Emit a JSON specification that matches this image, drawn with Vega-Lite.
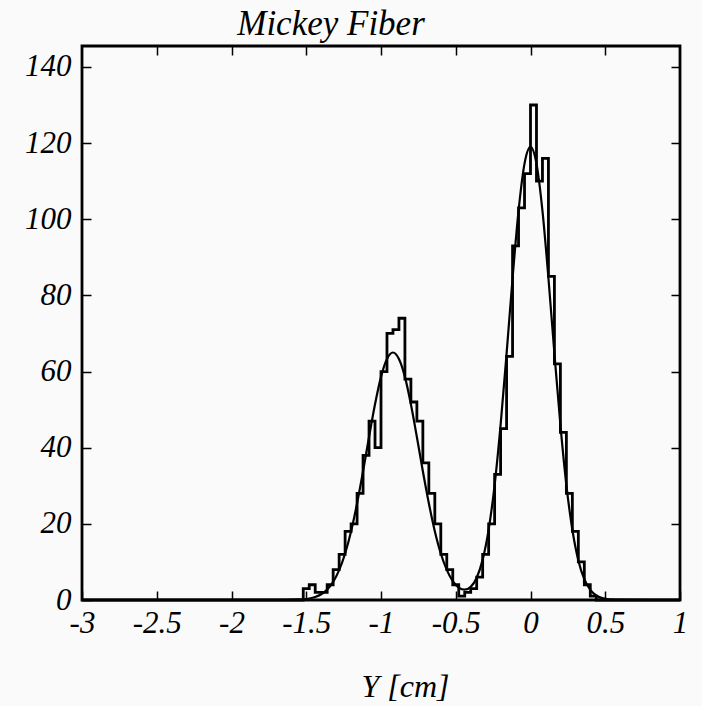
{
  "$schema": "https://vega.github.io/schema/vega-lite/v6.json",
  "width": 598,
  "height": 554,
  "autosize": "none",
  "padding": {"left": 82, "top": 46, "right": 22, "bottom": 106},
  "background": "#fafafa",
  "config": {
    "view": {"stroke": "#000000", "strokeWidth": 2.8},
    "font": "Liberation Serif"
  },
  "title": {
    "text": "Mickey Fiber",
    "font": "Liberation Serif",
    "fontStyle": "italic",
    "fontWeight": "normal",
    "fontSize": 35,
    "color": "#000000",
    "anchor": "middle",
    "dx": -50,
    "offset": 3
  },
  "datasets": {
    "hist": [
      {"i": 0, "x": -3.0, "n": 0},
      {"i": 1, "x": -1.52, "n": 3},
      {"i": 2, "x": -1.48, "n": 4},
      {"i": 3, "x": -1.44, "n": 2},
      {"i": 4, "x": -1.40, "n": 2},
      {"i": 5, "x": -1.36, "n": 4},
      {"i": 6, "x": -1.32, "n": 8},
      {"i": 7, "x": -1.28, "n": 12},
      {"i": 8, "x": -1.24, "n": 18},
      {"i": 9, "x": -1.20, "n": 20},
      {"i": 10, "x": -1.16, "n": 28},
      {"i": 11, "x": -1.12, "n": 38},
      {"i": 12, "x": -1.08, "n": 47},
      {"i": 13, "x": -1.04, "n": 40},
      {"i": 14, "x": -1.00, "n": 60},
      {"i": 15, "x": -0.96, "n": 70},
      {"i": 16, "x": -0.92, "n": 71},
      {"i": 17, "x": -0.88, "n": 74},
      {"i": 18, "x": -0.84, "n": 58},
      {"i": 19, "x": -0.80, "n": 52},
      {"i": 20, "x": -0.76, "n": 47},
      {"i": 21, "x": -0.72, "n": 36},
      {"i": 22, "x": -0.68, "n": 28},
      {"i": 23, "x": -0.64, "n": 20},
      {"i": 24, "x": -0.60, "n": 12},
      {"i": 25, "x": -0.56, "n": 8},
      {"i": 26, "x": -0.52, "n": 4},
      {"i": 27, "x": -0.48, "n": 1},
      {"i": 28, "x": -0.44, "n": 2},
      {"i": 29, "x": -0.40, "n": 3},
      {"i": 30, "x": -0.36, "n": 6},
      {"i": 31, "x": -0.32, "n": 12},
      {"i": 32, "x": -0.28, "n": 20},
      {"i": 33, "x": -0.24, "n": 33},
      {"i": 34, "x": -0.20, "n": 45},
      {"i": 35, "x": -0.16, "n": 64},
      {"i": 36, "x": -0.12, "n": 93},
      {"i": 37, "x": -0.08, "n": 103},
      {"i": 38, "x": -0.04, "n": 112},
      {"i": 39, "x": 0.00, "n": 130},
      {"i": 40, "x": 0.04, "n": 110},
      {"i": 41, "x": 0.08, "n": 116},
      {"i": 42, "x": 0.12, "n": 85},
      {"i": 43, "x": 0.16, "n": 62},
      {"i": 44, "x": 0.20, "n": 44},
      {"i": 45, "x": 0.24, "n": 28},
      {"i": 46, "x": 0.28, "n": 18},
      {"i": 47, "x": 0.32, "n": 10},
      {"i": 48, "x": 0.36, "n": 4},
      {"i": 49, "x": 0.40, "n": 1},
      {"i": 50, "x": 0.44, "n": 0},
      {"i": 51, "x": 1.0, "n": 0}
    ],
    "fit": [
      {"x": -3.0, "f": 0},
      {"x": -1.64, "f": 0},
      {"x": -1.60, "f": 0.03},
      {"x": -1.56, "f": 0.08},
      {"x": -1.52, "f": 0.18},
      {"x": -1.48, "f": 0.39},
      {"x": -1.44, "f": 0.79},
      {"x": -1.40, "f": 1.51},
      {"x": -1.36, "f": 2.76},
      {"x": -1.32, "f": 4.77},
      {"x": -1.28, "f": 7.83},
      {"x": -1.24, "f": 12.2},
      {"x": -1.20, "f": 18.07},
      {"x": -1.16, "f": 25.4},
      {"x": -1.12, "f": 33.8},
      {"x": -1.08, "f": 42.8},
      {"x": -1.04, "f": 51.4},
      {"x": -1.00, "f": 58.6},
      {"x": -0.96, "f": 63.3},
      {"x": -0.92, "f": 65.0},
      {"x": -0.88, "f": 63.3},
      {"x": -0.84, "f": 58.6},
      {"x": -0.80, "f": 51.4},
      {"x": -0.76, "f": 42.8},
      {"x": -0.72, "f": 33.8},
      {"x": -0.68, "f": 25.4},
      {"x": -0.64, "f": 18.07},
      {"x": -0.60, "f": 12.2},
      {"x": -0.56, "f": 7.9},
      {"x": -0.52, "f": 4.96},
      {"x": -0.48, "f": 3.26},
      {"x": -0.44, "f": 2.7},
      {"x": -0.40, "f": 3.44},
      {"x": -0.36, "f": 5.85},
      {"x": -0.32, "f": 10.6},
      {"x": -0.28, "f": 18.5},
      {"x": -0.24, "f": 30.2},
      {"x": -0.20, "f": 46.0},
      {"x": -0.16, "f": 64.7},
      {"x": -0.12, "f": 84.5},
      {"x": -0.08, "f": 102.2},
      {"x": -0.04, "f": 114.6},
      {"x": 0.00, "f": 119.0},
      {"x": 0.04, "f": 114.6},
      {"x": 0.08, "f": 102.2},
      {"x": 0.12, "f": 84.5},
      {"x": 0.16, "f": 64.7},
      {"x": 0.20, "f": 46.0},
      {"x": 0.24, "f": 30.2},
      {"x": 0.28, "f": 18.45},
      {"x": 0.32, "f": 10.4},
      {"x": 0.36, "f": 5.46},
      {"x": 0.40, "f": 2.65},
      {"x": 0.44, "f": 1.19},
      {"x": 0.48, "f": 0.5},
      {"x": 0.52, "f": 0.19},
      {"x": 0.56, "f": 0.07},
      {"x": 0.60, "f": 0.02},
      {"x": 1.0, "f": 0}
    ]
  },
  "layer": [
    {
      "data": {"name": "hist"},
      "mark": {"type": "line", "interpolate": "step-after", "color": "#000000", "strokeWidth": 2.8},
      "encoding": {
        "x": {
          "field": "x", "type": "quantitative",
          "scale": {"domain": [-3, 1], "nice": false, "zero": false},
          "axis": {
            "orient": "bottom",
            "values": [-3, -2.5, -2, -1.5, -1, -0.5, 0, 0.5, 1],
            "labelExpr": "toString(datum.value)",
            "domain": false, "grid": false,
            "tickSize": -9, "tickWidth": 1.5, "tickColor": "#000000",
            "labelFont": "Liberation Serif", "labelFontStyle": "italic", "labelFontSize": 31,
            "labelColor": "#000000", "labelPadding": 17, "labelFlush": false,
            "title": "Y [cm]", "titleFont": "Liberation Serif", "titleFontStyle": "italic",
            "titleFontWeight": "normal", "titleFontSize": 32, "titleColor": "#000000",
            "titlePadding": 33, "titleX": 323
          }
        },
        "y": {
          "field": "n", "type": "quantitative",
          "scale": {"domain": [0, 145.5], "nice": false},
          "axis": {
            "orient": "left",
            "values": [0, 20, 40, 60, 80, 100, 120, 140],
            "domain": false, "grid": false,
            "tickSize": -9, "tickWidth": 1.5, "tickColor": "#000000",
            "labelFont": "Liberation Serif", "labelFontStyle": "italic", "labelFontSize": 31,
            "labelColor": "#000000", "labelPadding": 20,
            "title": null
          }
        },
        "order": {"field": "i", "type": "quantitative"}
      }
    },
    {
      "data": {"name": "fit"},
      "mark": {"type": "line", "interpolate": "monotone", "color": "#000000", "strokeWidth": 2.2},
      "encoding": {
        "x": {
          "field": "x", "type": "quantitative",
          "axis": {
            "orient": "top",
            "values": [-2.5, -2, -1.5, -1, -0.5, 0, 0.5],
            "labels": false, "domain": false, "grid": false,
            "tickSize": -9, "tickWidth": 1.5, "tickColor": "#000000",
            "title": null
          }
        },
        "y": {
          "field": "f", "type": "quantitative",
          "axis": {
            "orient": "right",
            "values": [20, 40, 60, 80, 100, 120, 140],
            "labels": false, "domain": false, "grid": false,
            "tickSize": -9, "tickWidth": 1.5, "tickColor": "#000000",
            "title": null
          }
        }
      }
    }
  ]
}
